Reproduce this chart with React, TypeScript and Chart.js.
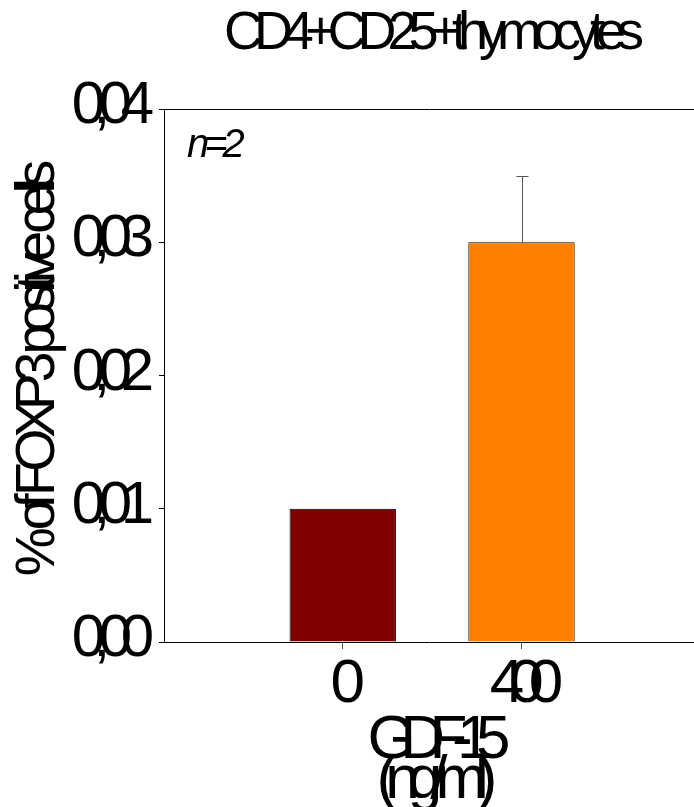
import React, { useEffect, useRef } from 'react';
import { Chart, registerables } from 'chart.js';

Chart.register(...registerables);

const categories = ['0', '400'];
const categoryPositions = [1, 2];
const values = [0.01, 0.03];
const errors = [0, 0.005];
const barColors = ['#800000', '#FF8000'];
const yTicks = [0, 0.01, 0.02, 0.03, 0.04];
const yTickLabels = ['0,00', '0,01', '0,02', '0,03', '0,04'];
const chartTitle = 'CD4+CD25+thymocytes';
const yTitle = '% of FOXP3 positive cells';
const xTitleLines = ['GDF-15', '(ng/ml)'];
const annotation = 'n=2';

const FONT = '"Liberation Sans", Arial, sans-serif';
const X_MAX = 2.965;

function drawSpaced(
  ctx: CanvasRenderingContext2D,
  text: string,
  x: number,
  y: number,
  font: string,
  spacing: number,
  align: 'left' | 'center' | 'right'
) {
  ctx.font = font;
  (ctx as any).letterSpacing = spacing + 'px';
  ctx.textAlign = 'left';
  ctx.textBaseline = 'alphabetic';
  const w = ctx.measureText(text).width - spacing;
  let sx = x;
  if (align === 'center') sx = x - w / 2;
  if (align === 'right') sx = x - w;
  ctx.fillText(text, sx, y);
}

const overlayPlugin = {
  id: 'overlay',
  afterDraw(chart: any) {
    const ctx: CanvasRenderingContext2D = chart.ctx;
    const xs = chart.scales.x;
    const ys = chart.scales.y;
    const area = chart.chartArea;

    // error bars
    ctx.save();
    ctx.strokeStyle = '#555555';
    ctx.lineWidth = 1;
    values.forEach((v, i) => {
      if (!errors[i]) return;
      const px = Math.round(xs.getPixelForValue(categoryPositions[i])) + 0.5;
      const base = ys.getPixelForValue(v);
      const top = Math.round(ys.getPixelForValue(v + errors[i])) + 0.5;
      ctx.beginPath();
      ctx.moveTo(px, base);
      ctx.lineTo(px, top);
      ctx.moveTo(px - 6, top);
      ctx.lineTo(px + 6, top);
      ctx.stroke();
    });
    ctx.restore();

    ctx.save();
    ctx.fillStyle = '#000000';
    // title
    drawSpaced(ctx, chartTitle, (area.left + area.right) / 2 + 5, 49, `normal 54px ${FONT}`, -9, 'center');
    // annotation
    drawSpaced(ctx, annotation, area.left + 23, 157, `italic 40px ${FONT}`, -5, 'left');
    // y tick labels
    yTicks.forEach((t, i) => {
      const py = ys.getPixelForValue(t);
      drawSpaced(ctx, yTickLabels[i], area.left - 10, py + 14, `normal 60px ${FONT}`, -11.5, 'right');
    });
    // x tick labels
    categories.forEach((c, i) => {
      const px = xs.getPixelForValue(categoryPositions[i]);
      drawSpaced(ctx, c, px + 5, 702, `normal 62px ${FONT}`, -15, 'center');
    });
    // x title
    const xc = (area.left + area.right) / 2 + 10;
    drawSpaced(ctx, xTitleLines[0], xc, 758, `normal 62px ${FONT}`, -15.5, 'center');
    drawSpaced(ctx, xTitleLines[1], xc - 2, 798, `normal 62px ${FONT}`, -12, 'center');
    // y title
    ctx.save();
    ctx.translate(54, 368);
    ctx.rotate(-Math.PI / 2);
    drawSpaced(ctx, yTitle, 0, 0, `normal 55px ${FONT}`, -9, 'center');
    ctx.restore();
    ctx.restore();
  },
};

export default function App() {
  const canvasRef = useRef<HTMLCanvasElement | null>(null);

  useEffect(() => {
    if (!canvasRef.current) return;
    const chart = new Chart(canvasRef.current, {
      type: 'bar',
      data: {
        datasets: [
          {
            data: categoryPositions.map((x, i) => ({ x, y: values[i] })),
            backgroundColor: barColors,
            borderColor: '#000000',
            borderWidth: 1,
            barPercentage: 0.595,
            categoryPercentage: 1,
          },
        ],
      },
      options: {
        animation: false,
        responsive: true,
        maintainAspectRatio: false,
        devicePixelRatio: 1,
        layout: { padding: 0 },
        plugins: {
          legend: { display: false },
          title: { display: false },
          tooltip: { enabled: false },
        },
        scales: {
          x: {
            type: 'linear',
            position: 'bottom',
            min: 0,
            max: X_MAX,
            offset: false,
            afterBuildTicks: (s: any) => {
              s.ticks = categoryPositions.map((v) => ({ value: v }));
            },
            ticks: { display: false },
            grid: { offset: false, drawOnChartArea: false, drawTicks: true, tickLength: 7, tickColor: '#555555' },
            border: { display: true, color: '#000000', width: 1 },
            afterFit: (s: any) => {
              s.height = 165;
            },
          },
          x2: {
            type: 'linear',
            position: 'top',
            min: 0,
            max: X_MAX,
            ticks: { display: false },
            grid: { display: false },
            border: { display: true, color: '#000000', width: 1 },
            afterFit: (s: any) => {
              s.height = 109;
            },
          },
          y: {
            type: 'linear',
            min: 0,
            max: 0.04,
            afterBuildTicks: (s: any) => {
              s.ticks = yTicks.map((v) => ({ value: v }));
            },
            ticks: { display: false },
            grid: { drawOnChartArea: false, drawTicks: true, tickLength: 5, tickColor: '#000000' },
            border: { display: true, color: '#000000', width: 1 },
            afterFit: (s: any) => {
              s.width = 164;
            },
          },
        },
      } as any,
      plugins: [overlayPlugin],
    });
    return () => chart.destroy();
  }, []);

  return (
    <div style={{ position: 'absolute', left: 0, top: 0, width: 694, height: 807, background: '#ffffff' }}>
      <canvas ref={canvasRef} />
    </div>
  );
}
